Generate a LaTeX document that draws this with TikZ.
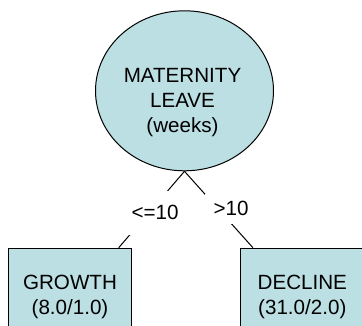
\documentclass[tikz,border=0pt]{standalone}
\usepackage{fontspec}
\setmainfont{Liberation Sans}
\usetikzlibrary{shapes.geometric}
\definecolor{nodeblue}{RGB}{187,223,227}

\begin{document}
\begin{tikzpicture}[x=1pt,y=1pt]
	\tikzstyle{every node}+=[inner sep=0pt, font=\fontsize{20.6}{25}\selectfont]
	\tikzstyle{split}=[draw=black, fill=nodeblue, ellipse, line width=1pt, minimum width=178pt, minimum height=160pt]
	\tikzstyle{leaf}=[draw=black, fill=nodeblue, rectangle, line width=1pt, minimum width=123pt, minimum height=97pt, anchor=north, align=center]
	\tikzstyle{cond}=[fill=white]
	\useasboundingbox (0,0) rectangle (362,-325);
	\clip (0,0) rectangle (362,-325);
	% tree nodes
	\node [split] (leave) at (184.5,-90.8) {};
	\node [align=center] (leavetext) at (182.5,-103) {MATERNITY\\LEAVE\\(weeks)};
	\node [leaf] (growth) at (70,-247.7) {GROWTH\\(8.0/1.0)};
	\node [leaf] (decline) at (302.3,-247.7) {DECLINE\\(31.0/2.0)};
	\coordinate (growthin) at ([xshift=-13.3pt]growth.north east);
	\coordinate (declinein) at ([xshift=12.6pt]decline.north west);
	% branches
	\draw [black, line width=1pt] (leave.south) -- (growthin);
	\draw [black, line width=1pt] (leave.south) -- (declinein);
	\node [cond, minimum width=54pt, minimum height=44pt] (le10) at (155,-212.8) {<=10};
	\node [cond, minimum width=52pt, minimum height=30pt] (gt10) at (231,-208.8) {>10};
\end{tikzpicture}
\end{document}
